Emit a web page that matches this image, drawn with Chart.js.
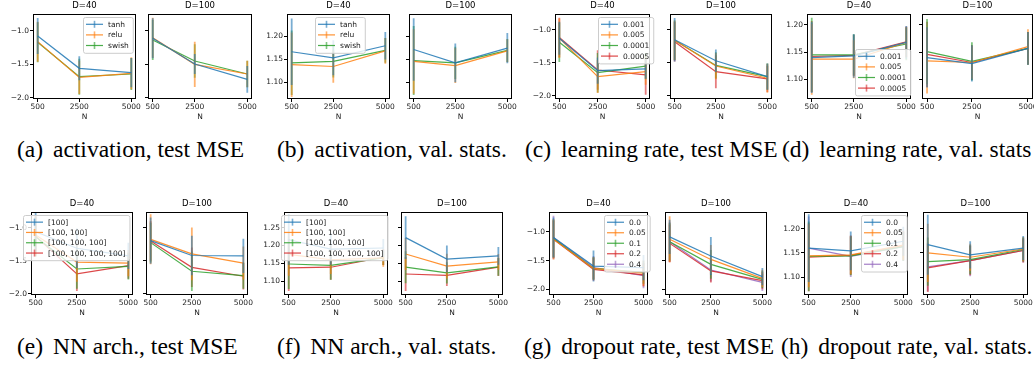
<!DOCTYPE html>
<html>
<head>
<meta charset="utf-8">
<script src="https://cdn.jsdelivr.net/npm/chart.js@4.4.1/dist/chart.umd.min.js"></script>
<style>
  body { margin: 0; background: #fff; width: 1034px; height: 365px; position: relative; overflow: hidden; }
  canvas { position: absolute; }
  .cap { position: absolute; font-family: "Liberation Serif", "Times New Roman", serif; font-size: 23.5px; line-height: 24px; white-space: nowrap; color: #000; }
  .cap span { margin-right: 4px; }
</style>
</head>
<body>
<script>
// ---------------------------------------------------------------------------
// data - N on x, mean and +/- error per series
// ---------------------------------------------------------------------------
const xTicks = [500, 2500, 5000];
const mseTicks = [-2.0, -1.5, -1.0];
const valTicks = [1.10, 1.15, 1.20];
const valTicksArch = [1.10, 1.15, 1.20, 1.25];

const actLabels = ['tanh', 'relu', 'swish'];
const lrLabels = ['0.001', '0.005', '0.0001', '0.0005'];
const archLabels = ['[100]', '[100, 100]', '[100, 100, 100]', '[100, 100, 100, 100]'];
const dropLabels = ['0.0', '0.05', '0.1', '0.2', '0.4'];

// (a) activation, test MSE
const actMse40 = [[-1.075, -1.56, -1.625], [-1.16, -1.695, -1.635], [-1.17, -1.685, -1.645]];
const actMse40Err = [[0.27, 0.18, 0.22], [0.3, 0.25, 0.24], [0.3, 0.27, 0.24]];
const actMse100 = [[-1.11, -1.495, -1.725], [-1.10, -1.50, -1.645], [-1.135, -1.45, -1.645]];
const actMse100Err = [[0.3, 0.15, 0.2], [0.3, 0.34, 0.2], [0.3, 0.25, 0.2]];

// (b) activation, val. stats
const actVal40 = [[1.166, 1.153, 1.179], [1.138, 1.134, 1.168], [1.142, 1.145, 1.169]];
const actVal40Err = [[0.072, 0.038, 0.03], [0.07, 0.035, 0.028], [0.07, 0.035, 0.027]];
const actVal100 = [[1.171, 1.142, 1.174], [1.145, 1.136, 1.168], [1.147, 1.142, 1.169]];
const actVal100Err = [[0.068, 0.042, 0.033], [0.07, 0.038, 0.025], [0.075, 0.035, 0.025]];

// (c) learning rate, test MSE
const lrMse40 = [[-1.127, -1.62, -1.594], [-1.127, -1.71, -1.635], [-1.19, -1.65, -1.55], [-1.117, -1.61, -1.685]];
const lrMse40Err = [[0.25, 0.2, 0.15], [0.3, 0.25, 0.2], [0.3, 0.3, 0.2], [0.3, 0.3, 0.3]];
const lrMse100 = [[-1.15, -1.47, -1.71], [-1.16, -1.55, -1.735], [-1.16, -1.54, -1.71], [-1.18, -1.635, -1.745]];
const lrMse100Err = [[0.33, 0.17, 0.2], [0.3, 0.2, 0.22], [0.3, 0.2, 0.2], [0.3, 0.25, 0.2]];

// (d) learning rate, val. stats
const lrVal40 = [[1.140, 1.143, 1.168], [1.137, 1.137, 1.168], [1.145, 1.145, 1.165], [1.142, 1.144, 1.169]];
const lrVal40Err = [[0.065, 0.04, 0.03], [0.065, 0.035, 0.028], [0.068, 0.038, 0.03], [0.065, 0.038, 0.028]];
const lrVal100 = [[1.140, 1.129, 1.157], [1.134, 1.131, 1.160], [1.151, 1.133, 1.157], [1.146, 1.131, 1.157]];
const lrVal100Err = [[0.055, 0.033, 0.03], [0.06, 0.03, 0.032], [0.06, 0.035, 0.03], [0.06, 0.032, 0.03]];

// (e) NN arch., test MSE
const archMse40 = [[-1.06, -1.31, -1.425], [-1.11, -1.52, -1.535], [-1.135, -1.625, -1.585], [-1.13, -1.70, -1.575]];
const archMse40Err = [[0.3, 0.3, 0.2], [0.3, 0.3, 0.2], [0.3, 0.3, 0.2], [0.3, 0.26, 0.2]];
const archMse100 = [[-1.195, -1.42, -1.425], [-1.175, -1.395, -1.535], [-1.225, -1.66, -1.725], [-1.20, -1.60, -1.735]];
const archMse100Err = [[0.35, 0.3, 0.26], [0.38, 0.4, 0.25], [0.3, 0.3, 0.2], [0.3, 0.3, 0.2]];

// (f) NN arch., val. stats
const archVal40 = [[1.216, 1.19, 1.193], [1.175, 1.16, 1.165], [1.148, 1.144, 1.165], [1.137, 1.139, 1.167]];
const archVal40Err = [[0.07, 0.045, 0.025], [0.06, 0.04, 0.025], [0.07, 0.04, 0.02], [0.065, 0.035, 0.022]];
const archVal100 = [[1.222, 1.162, 1.171], [1.176, 1.142, 1.154], [1.139, 1.123, 1.14], [1.12, 1.116, 1.139]];
const archVal100Err = [[0.06, 0.038, 0.025], [0.045, 0.035, 0.022], [0.045, 0.03, 0.025], [0.048, 0.03, 0.025]];

// (g) dropout rate, test MSE
const dropMse40 = [[-1.098, -1.595, -1.624], [-1.13, -1.636, -1.72], [-1.115, -1.636, -1.705], [-1.13, -1.653, -1.75], [-1.098, -1.62, -1.763]];
const dropMse40Err = [[0.35, 0.27, 0.22], [0.35, 0.2, 0.22], [0.33, 0.2, 0.2], [0.33, 0.2, 0.2], [0.38, 0.2, 0.22]];
const dropMse100 = [[-1.087, -1.42, -1.78], [-1.127, -1.48, -1.81], [-1.173, -1.566, -1.827], [-1.2, -1.68, -1.85], [-1.173, -1.665, -1.88]];
const dropMse100Err = [[0.3, 0.33, 0.15], [0.4, 0.25, 0.15], [0.33, 0.25, 0.15], [0.33, 0.2, 0.15], [0.35, 0.2, 0.15]];

// (h) dropout rate, val. stats
const dropVal40 = [[1.16, 1.154, 1.174], [1.144, 1.146, 1.166], [1.143, 1.144, 1.163], [1.141, 1.145, 1.165], [1.16, 1.143, 1.163]];
const dropVal40Err = [[0.07, 0.04, 0.03], [0.065, 0.04, 0.03], [0.072, 0.04, 0.03], [0.07, 0.04, 0.03], [0.065, 0.043, 0.03]];
const dropVal100 = [[1.167, 1.146, 1.16], [1.15, 1.141, 1.158], [1.132, 1.136, 1.157], [1.119, 1.134, 1.155], [1.121, 1.134, 1.155]];
const dropVal100Err = [[0.062, 0.028, 0.025], [0.06, 0.028, 0.025], [0.05, 0.03, 0.025], [0.05, 0.03, 0.025], [0.05, 0.032, 0.025]];

// tab10
const colors = [[31, 119, 180], [255, 127, 14], [44, 160, 44], [214, 39, 40], [148, 103, 189]];
const rgba = (i, a) => 'rgba(' + colors[i].join(',') + ',' + a + ')';

// ---------------------------------------------------------------------------
// panel layout: plot box [left, top, right, bottom] in page pixels
// ---------------------------------------------------------------------------
const R1 = [14, 99], R2 = [212, 295];
const panels = [
  { title: 'D=40',  box: [33, R1[0], 136, R1[1]],  y: [-2.02, -0.745], ticks: mseTicks, dec: 1, mean: actMse40, err: actMse40Err, labels: actLabels, showY: true, legend: [83, 17] },
  { title: 'D=100', box: [148, R1[0], 252, R1[1]], y: [-2.02, -0.745], ticks: mseTicks, dec: 1, mean: actMse100, err: actMse100Err, labels: actLabels },
  { title: 'D=40',  box: [287, R1[0], 390, R1[1]], y: [1.0635, 1.248], ticks: valTicks, dec: 2, mean: actVal40, err: actVal40Err, labels: actLabels, showY: true, legend: [315, 17] },
  { title: 'D=100', box: [409, R1[0], 512, R1[1]], y: [1.0635, 1.248], ticks: valTicks, dec: 2, mean: actVal100, err: actVal100Err, labels: actLabels },
  { title: 'D=40',  box: [555, R1[0], 650, R1[1]], y: [-2.05, -0.76], ticks: mseTicks, dec: 1, mean: lrMse40, err: lrMse40Err, labels: lrLabels, showY: true, legend: [598, 17] },
  { title: 'D=100', box: [670, R1[0], 772, R1[1]], y: [-2.05, -0.76], ticks: mseTicks, dec: 1, mean: lrMse100, err: lrMse100Err, labels: lrLabels },
  { title: 'D=40',  box: [807, R1[0], 911, R1[1]], y: [1.064, 1.22], ticks: valTicks, dec: 2, mean: lrVal40, err: lrVal40Err, labels: lrLabels, showY: true, legend: [855, 49] },
  { title: 'D=100', box: [922, R1[0], 1033, R1[1]], y: [1.064, 1.22], ticks: valTicks, dec: 2, mean: lrVal100, err: lrVal100Err, labels: lrLabels },

  { title: 'D=40',  box: [31, R2[0], 133, R2[1]],  y: [-2.02, -0.76], ticks: mseTicks, dec: 1, mean: archMse40, err: archMse40Err, labels: archLabels, showY: true, legend: [23, 215], rowH: 10.3 },
  { title: 'D=100', box: [146, R2[0], 248, R2[1]], y: [-2.02, -0.76], ticks: mseTicks, dec: 1, mean: archMse100, err: archMse100Err, labels: archLabels },
  { title: 'D=40',  box: [284, R2[0], 388, R2[1]], y: [1.061, 1.294], ticks: valTicksArch, dec: 2, mean: archVal40, err: archVal40Err, labels: archLabels, showY: true, legend: [281, 215], rowH: 10.3 },
  { title: 'D=100', box: [401, R2[0], 503, R2[1]], y: [1.061, 1.294], ticks: valTicksArch, dec: 2, mean: archVal100, err: archVal100Err, labels: archLabels },
  { title: 'D=40',  box: [549, R2[0], 648, R2[1]], y: [-2.10, -0.653], ticks: mseTicks, dec: 1, mean: dropMse40, err: dropMse40Err, labels: dropLabels, showY: true, legend: [604, 215], rowH: 10.5 },
  { title: 'D=100', box: [665, R2[0], 767, R2[1]], y: [-2.10, -0.653], ticks: mseTicks, dec: 1, mean: dropMse100, err: dropMse100Err, labels: dropLabels },
  { title: 'D=40',  box: [804, R2[0], 908, R2[1]], y: [1.063, 1.2345], ticks: valTicks, dec: 2, mean: dropVal40, err: dropVal40Err, labels: dropLabels, showY: true, legend: [861, 215], rowH: 10.5 },
  { title: 'D=100', box: [923, R2[0], 1028, R2[1]], y: [1.063, 1.2345], ticks: valTicks, dec: 2, mean: dropVal100, err: dropVal100Err, labels: dropLabels }
];

const captions = [
  ['(a)', 'activation, test MSE', 17, 149],
  ['(b)', 'activation, val. stats.', 277, 149],
  ['(c)', 'learning rate, test MSE', 525, 149],
  ['(d)', 'learning rate, val. stats', 782, 149],
  ['(e)', 'NN arch., test MSE', 17, 346],
  ['(f)', 'NN arch., val. stats.', 277, 346],
  ['(g)', 'dropout rate, test MSE', 524, 346],
  ['(h)', 'dropout rate, val. stats.', 781, 346]
];

Chart.defaults.font.family = '"DejaVu Sans", sans-serif';
Chart.defaults.color = '#1a1a1a';

const FS = 7.5;           // tick / legend font size
const padL = 34, padR = 14, padT = 14, padB = 24;

const fmtTick = (v, dec) => v.toFixed(dec).replace('-', '\u2212');

// frame, title, error bars and legend for one panel
function panelPlugin(p) {
    return {
        id: 'panel',
        afterDatasetDraw(chart, args) {
            const ctx = chart.ctx, xs = chart.scales.x, ys = chart.scales.y, a = chart.chartArea;
            const i = args.index;
            ctx.save();
            ctx.beginPath();
            ctx.rect(a.left, a.top, a.right - a.left, a.bottom - a.top);
            ctx.clip();
            ctx.strokeStyle = rgba(i, 0.6);
            ctx.lineWidth = 1.8;
            ctx.beginPath();
            xTicks.forEach((x, j) => {
                const px = xs.getPixelForValue(x);
                ctx.moveTo(px, ys.getPixelForValue(p.mean[i][j] - p.err[i][j]));
                ctx.lineTo(px, ys.getPixelForValue(p.mean[i][j] + p.err[i][j]));
            });
            ctx.stroke();
            ctx.restore();
        },
        afterDraw(chart) {
            const ctx = chart.ctx, a = chart.chartArea;
            ctx.save();
            // axes frame
            ctx.strokeStyle = '#000';
            ctx.lineWidth = 1;
            ctx.strokeRect(Math.round(a.left) + 0.5, Math.round(a.top) + 0.5,
                Math.round(a.right - a.left) - 1, Math.round(a.bottom - a.top) - 1);
            // title
            ctx.fillStyle = '#000';
            ctx.font = '8.5px "DejaVu Sans"';
            ctx.textAlign = 'center';
            ctx.textBaseline = 'middle';
            ctx.fillText(p.title, (a.left + a.right) / 2, a.top - 8);
            // legend
            if (p.legend) {
                const ox = p.box[0] - padL, oy = p.box[1] - padT;
                const rowH = p.rowH || 10.6, pad = 3, handle = 17, gap = 5;
                ctx.font = FS + 'px "DejaVu Sans"';
                const tw = Math.max(...p.labels.map(l => ctx.measureText(l).width));
                const w = pad + handle + gap + tw + pad + 1;
                const h = p.labels.length * rowH + 4;
                const x = p.legend[0] - ox, y = p.legend[1] - oy;
                ctx.beginPath();
                ctx.roundRect(x + 0.5, y + 0.5, w, h, 2);
                ctx.fillStyle = 'rgba(255,255,255,0.8)';
                ctx.fill();
                ctx.strokeStyle = '#cccccc';
                ctx.stroke();
                ctx.textAlign = 'left';
                p.labels.forEach((l, i) => {
                    const cy = y + 2 + rowH * (i + 0.5);
                    const hx = x + pad;
                    ctx.strokeStyle = rgba(i, 0.85);
                    ctx.lineWidth = 1.2;
                    ctx.beginPath();
                    ctx.moveTo(hx, cy); ctx.lineTo(hx + handle, cy);
                    ctx.stroke();
                    ctx.strokeStyle = rgba(i, 0.6);
                    ctx.lineWidth = 1.6;
                    ctx.beginPath();
                    ctx.moveTo(hx + handle / 2, cy - 3.5); ctx.lineTo(hx + handle / 2, cy + 3.5);
                    ctx.stroke();
                    ctx.fillStyle = '#1a1a1a';
                    ctx.fillText(l, hx + handle + gap, cy + 0.5);
                });
            }
            ctx.restore();
        }
    };
}

function makePanel(p) {
    const w = p.box[2] - p.box[0], h = p.box[3] - p.box[1];
    const canvas = document.createElement('canvas');
    canvas.width = w + padL + padR;
    canvas.height = h + padT + padB;
    canvas.style.width = canvas.width + 'px';
    canvas.style.height = canvas.height + 'px';
    canvas.style.left = (p.box[0] - padL) + 'px';
    canvas.style.top = (p.box[1] - padT) + 'px';
    document.body.appendChild(canvas);

    const tickGrid = { drawOnChartArea: false, drawTicks: true, tickLength: 3, color: '#000', lineWidth: 1 };

    new Chart(canvas, {
        type: 'line',
        data: {
            datasets: p.labels.map((lab, i) => ({
                label: lab,
                data: xTicks.map((x, j) => ({ x: x, y: p.mean[i][j] })),
                borderColor: rgba(i, 0.85),
                borderWidth: 1.2,
                pointRadius: 0,
                tension: 0,
                fill: false
            }))
        },
        options: {
            responsive: false,
            animation: false,
            layout: { padding: { left: 0, right: padR, top: padT, bottom: 0 } },
            plugins: { legend: { display: false }, tooltip: { enabled: false } },
            scales: {
                x: {
                    type: 'linear', min: 275, max: 5225,
                    afterBuildTicks: s => { s.ticks = xTicks.map(v => ({ value: v })); },
                    afterFit: s => { s.height = padB; s.paddingLeft = 0; s.paddingRight = 0; },
                    ticks: { font: { size: FS }, color: '#1a1a1a', padding: 1, maxRotation: 0, autoSkip: false, callback: v => String(v) },
                    grid: tickGrid,
                    border: { display: false },
                    title: { display: true, text: 'N', font: { size: FS }, color: '#1a1a1a', padding: { top: 0, bottom: 1 } }
                },
                y: {
                    type: 'linear', min: p.y[0], max: p.y[1],
                    afterBuildTicks: s => { s.ticks = p.ticks.map(v => ({ value: v })); },
                    afterFit: s => { s.width = padL; s.paddingTop = 0; s.paddingBottom = 0; },
                    ticks: { display: !!p.showY, font: { size: FS }, color: '#1a1a1a', padding: 1, autoSkip: false, callback: v => fmtTick(v, p.dec) },
                    grid: tickGrid,
                    border: { display: false }
                }
            }
        },
        plugins: [panelPlugin(p)]
    });
}

panels.forEach(makePanel);

captions.forEach(c => {
    const d = document.createElement('div');
    d.className = 'cap';
    d.style.left = c[2] + 'px';
    d.style.top = (c[3] - 12) + 'px';
    const s = document.createElement('span');
    s.textContent = c[0];
    d.appendChild(s);
    d.appendChild(document.createTextNode(' ' + c[1]));
    document.body.appendChild(d);
});
</script>
</body>
</html>
